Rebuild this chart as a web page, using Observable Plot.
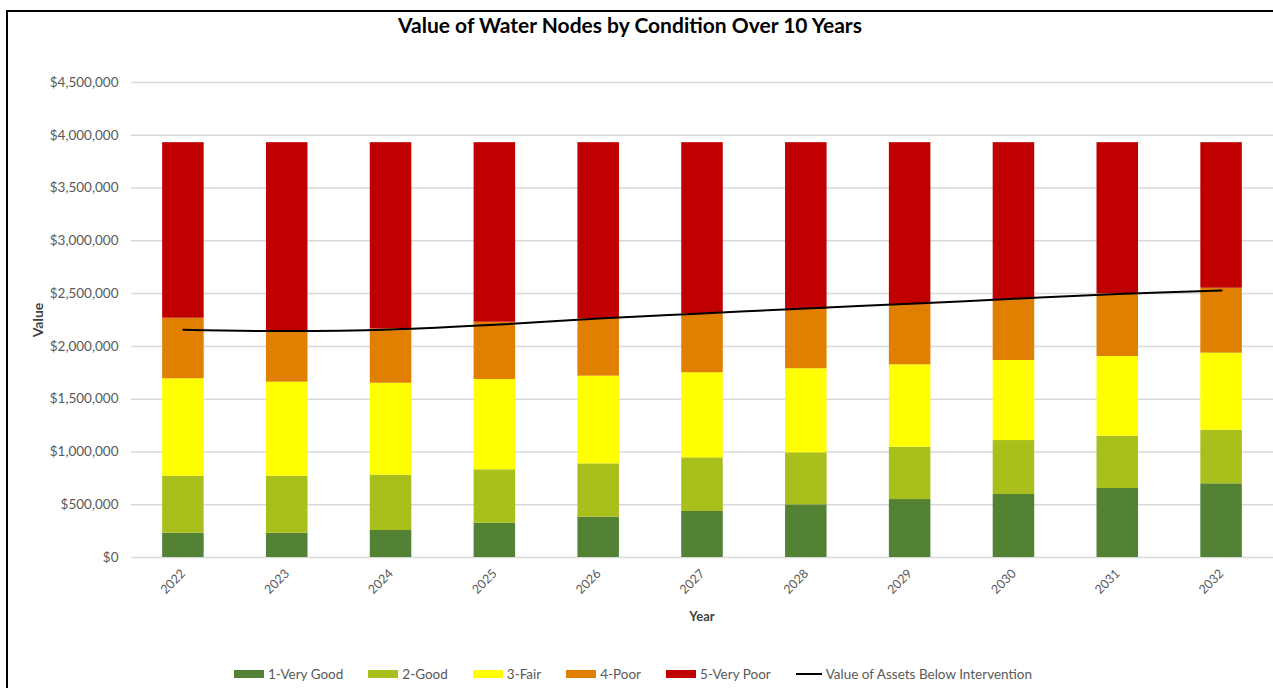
<!DOCTYPE html>
<html>
<head>
<meta charset="utf-8">
<script src="https://cdn.jsdelivr.net/npm/d3@7"></script>
<script src="https://cdn.jsdelivr.net/npm/@observablehq/plot@0.6"></script>
<style>
  html, body { margin: 0; padding: 0; background: #fff; overflow: hidden; }
  #wrap { position: relative; width: 1273px; height: 688px; font-family: Lato, "Open Sans", sans-serif; }
  #frame { position: absolute; left: 6px; top: 10px; width: 1300px; height: 700px; border: 2px solid #000; box-sizing: border-box; pointer-events: none; }
  #title { position: absolute; left: 0; width: 1260px; top: 12px; text-align: center; font-weight: 700; font-size: 21px; color: #000; }
  #ylab { position: absolute; left: 37px; top: 320px; transform: translate(-50%, -50%) rotate(-90deg); font-weight: 700; font-size: 14px; color: #404040; }
  #xlab { position: absolute; left: 702px; top: 616px; transform: translate(-50%, -50%); font-weight: 700; font-size: 13px; color: #404040; }
  #legend { position: absolute; left: 0; width: 1266px; top: 666px; display: flex; justify-content: center; gap: 25px; font-size: 13.5px; color: #595959; }
  .item { display: flex; align-items: center; gap: 4px; white-space: nowrap; }
  .sw { width: 30px; height: 8px; }
  .ln { width: 26px; height: 2px; background: #000; }
  #chart { position: absolute; left: 0; top: 0; }
</style>
</head>
<body>
<div id="wrap">
  <div id="chart"></div>
  <div id="title"></div>
  <div id="ylab">Value</div>
  <div id="xlab">Year</div>
  <div id="legend"></div>
  <div id="frame"></div>
</div>
<script>
const years = ["2022","2023","2024","2025","2026","2027","2028","2029","2030","2031","2032"];
const conditions = ["1-Very Good","2-Good","3-Fair","4-Poor","5-Very Poor"];
const conditionColors = ["#548235","#A9BF1B","#FFFF00","#E07F00","#C00000"];
const lineLabel = "Value of Assets Below Intervention";
const titleText = "Value of Water Nodes by Condition Over 10 Years";

// segment values per condition (dollars)
const veryGood = [230000,230000,256000,325000,382000,436000,499000,549000,597000,654000,698000];
const good     = [540000,540000,524000,506000,505000,508000,493000,496000,511000,495000,508000];
const fair     = [923000,891000,871000,855000,831000,806000,796000,780000,758000,755000,730000];
const poor     = [574000,489000,514000,543000,543000,559000,562000,569000,578000,594000,615000];
const veryPoor = [1663000,1780000,1765000,1701000,1669000,1621000,1580000,1536000,1486000,1432000,1379000];
const belowIntervention = [2157000,2145000,2160000,2204000,2265000,2312000,2360000,2403000,2451000,2496000,2530000];
const yTicks = [0,500000,1000000,1500000,2000000,2500000,3000000,3500000,4000000,4500000];

const seriesValues = [veryGood, good, fair, poor, veryPoor];
const segments = [];
years.forEach((yr, i) => {
  conditions.forEach((c, j) => segments.push({year: yr, condition: c, value: seriesValues[j][i]}));
});
const lineData = years.map((yr, i) => ({year: yr, value: belowIntervention[i]}));

const fmt = d => "$" + d3.format(",")(d);

const chart = Plot.plot({
  width: 1273,
  height: 640,
  marginLeft: 131,
  marginRight: 0,
  marginTop: 82,
  marginBottom: 83,
  style: {fontFamily: "Lato, 'Open Sans', sans-serif", background: "transparent"},
  x: {domain: years, paddingInner: 0.6, paddingOuter: 0.3, round: false, label: null},
  y: {domain: [0, 4500000], label: null},
  color: {domain: conditions, range: conditionColors},
  marks: [
    Plot.gridY(yTicks, {stroke: "#d9d9d9", strokeOpacity: 1, strokeWidth: 1.5}),
    Plot.axisY(yTicks, {tickSize: 0, tickPadding: 13, tickFormat: fmt, fontSize: 13.5, fill: "#595959", label: null}),
    Plot.axisX({tickSize: 0, tickRotate: -45, tickPadding: 14, fontSize: 12.5, fill: "#595959", label: null}),
    Plot.barY(segments, {x: "year", y: "value", fill: "condition", order: conditions}),
    Plot.line(lineData, {x: "year", y: "value", stroke: "#000", strokeWidth: 2, curve: "catmull-rom"})
  ]
});
document.getElementById("chart").appendChild(chart);
document.getElementById("title").textContent = titleText;

const legend = document.getElementById("legend");
conditions.forEach((c, i) => {
  const it = document.createElement("div");
  it.className = "item";
  const sw = document.createElement("div");
  sw.className = "sw";
  sw.style.background = conditionColors[i];
  const t = document.createElement("span");
  t.textContent = c;
  it.appendChild(sw); it.appendChild(t);
  legend.appendChild(it);
});
{
  const it = document.createElement("div");
  it.className = "item";
  const ln = document.createElement("div");
  ln.className = "ln";
  const t = document.createElement("span");
  t.textContent = lineLabel;
  it.appendChild(ln); it.appendChild(t);
  legend.appendChild(it);
}
</script>
</body>
</html>
